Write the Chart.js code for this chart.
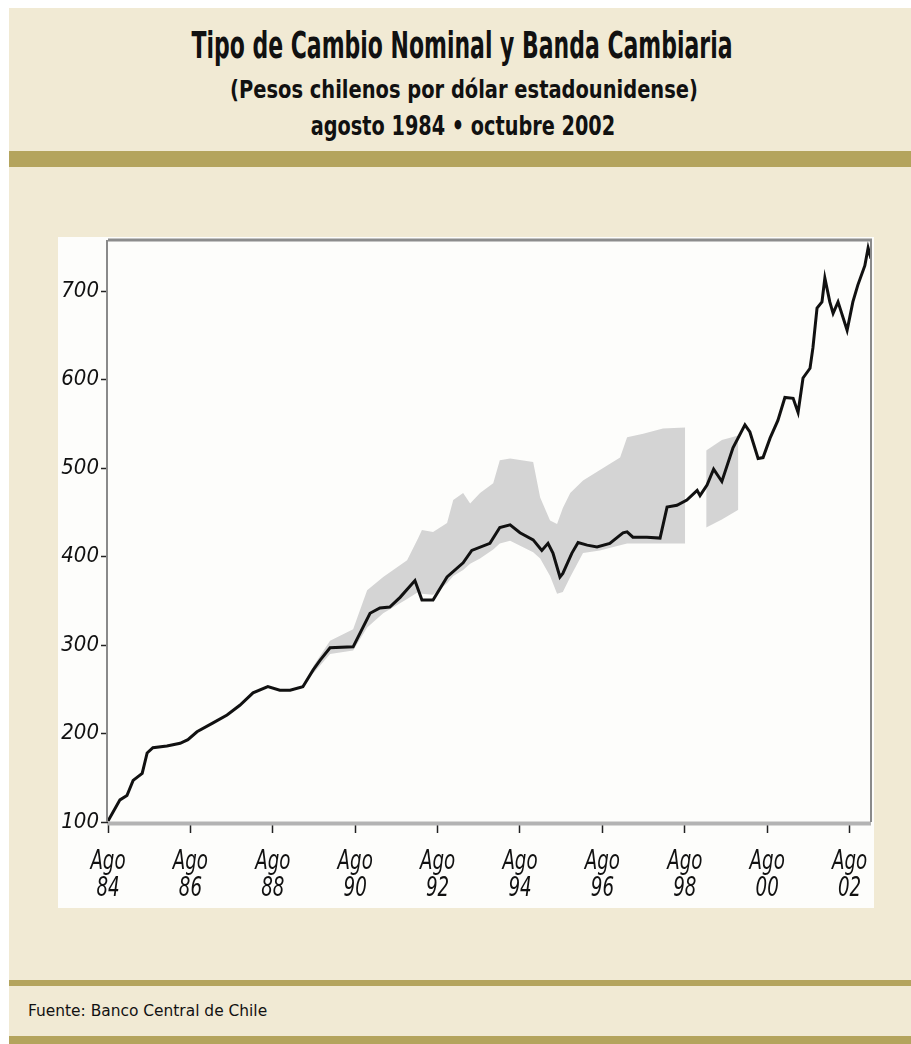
<!DOCTYPE html>
<html>
<head>
<meta charset="utf-8">
<script src="https://cdn.jsdelivr.net/npm/chart.js@4.4.1/dist/chart.umd.min.js"></script>
<style>
  html, body { margin: 0; padding: 0; background: #ffffff; }
  #page { position: relative; width: 911px; height: 1044px; overflow: hidden; }
  #panel { position: absolute; left: 9px; top: 8px; right: 0; bottom: 0; background: #f1ead4; }
  .olive { position: absolute; left: 9px; right: 0; background: #b4a45d; }
  .head { position: absolute; white-space: nowrap; color: #111; line-height: 1;
          font-family: 'DejaVu Sans Condensed', 'Liberation Sans', sans-serif;
          font-weight: bold; transform-origin: center center; }
  #plotBox { position: absolute; left: 58px; top: 237px; width: 816px; height: 671px; background: #fdfdfb; }
  #foot { position: absolute; left: 28px; top: 1003px; white-space: nowrap; color: #111; line-height: 1;
          font-family: 'DejaVu Sans Condensed', 'Liberation Sans', sans-serif; font-size: 16px; transform-origin: left center; }
</style>
</head>
<body>
<div id="page">
  <div id="panel"></div>
  <div class="head" id="t1" data-w="541" style="left:462px; top:26px; font-size:38px;">Tipo de Cambio Nominal y Banda Cambiaria</div>
  <div class="head" id="t2" data-w="468" style="left:464px; top:77px; font-size:25px;">(Pesos chilenos por dólar estadounidense)</div>
  <div class="head" id="t3" data-w="304" style="left:463px; top:113px; font-size:26px;">agosto 1984 • octubre 2002</div>
  <div class="olive" style="top:151px; height:16px;"></div>
  <div id="plotBox"><canvas id="tcChart" width="816" height="671"></canvas></div>
  <div class="olive" style="top:980px; height:6px;"></div>
  <div id="foot" data-w="239">Fuente: Banco Central de Chile</div>
  <div class="olive" style="top:1036px; height:8px;"></div>
</div>
<script>
// Tipo de cambio observado (pesos por dólar), fechas en años decimales
var lineYears = [1984.58, 1984.87, 1985.04, 1985.19, 1985.41, 1985.53, 1985.67, 1986.01, 1986.33, 1986.52,
    1986.74, 1987.13, 1987.47, 1987.78, 1988.10, 1988.46, 1988.75, 1989.00, 1989.31, 1989.56,
    1989.73, 1989.97, 1990.53, 1990.94, 1991.18, 1991.42, 1991.67, 1992.03, 1992.20, 1992.47,
    1992.81, 1993.20, 1993.41, 1993.85, 1994.09, 1994.34, 1994.58, 1994.90, 1995.11, 1995.26,
    1995.38, 1995.55, 1995.62, 1995.84, 1995.99, 1996.21, 1996.45, 1996.76, 1997.08, 1997.18,
    1997.32, 1997.66, 1997.98, 1998.15, 1998.39, 1998.63, 1998.88, 1998.95, 1999.12, 1999.28,
    1999.48, 1999.75, 2000.04, 2000.16, 2000.36, 2000.48, 2000.65, 2000.84, 2001.01, 2001.21,
    2001.33, 2001.45, 2001.62, 2001.69, 2001.79, 2001.91, 2001.98, 2002.10, 2002.18, 2002.30,
    2002.52, 2002.66, 2002.78, 2002.95, 2003.03, 2003.10];
var lineValues = [101, 125, 130, 147, 155, 178, 184, 186, 189, 193,
    202, 212, 221, 232, 246, 253, 249, 249, 253, 272,
    283, 297, 298, 336, 342, 343, 354, 373, 351, 351,
    377, 393, 407, 415, 433, 436, 427, 419, 407, 415,
    404, 377, 381, 404, 416, 413, 411, 415, 427, 428,
    422, 422, 421, 456, 458, 464, 475, 469, 481, 499,
    485, 523, 549, 541, 511, 512, 534, 554, 580, 579,
    563, 602, 613, 636, 681, 688, 715, 688, 675, 688,
    656, 688, 707, 729, 749, 737];

// Banda cambiaria: piso y techo (null = tramo sin banda)
var bandYears = [1989.56, 1989.97, 1990.53, 1990.87, 1991.26, 1991.84, 1992.11, 1992.20, 1992.47, 1992.81,
    1992.96, 1993.20, 1993.37, 1993.61, 1993.93, 1994.09, 1994.34, 1994.90, 1995.07, 1995.31,
    1995.48, 1995.62, 1995.80, 1996.11, 1996.52, 1997.01, 1997.18, 1997.57, 1998.05, 1998.59,
    1998.80, 1999.10, 1999.48, 1999.88];
var bandLow = [268, 290, 294, 320, 336, 352, 360, 358, 357, 370,
    378, 385, 392, 398, 408, 415, 418, 405, 398, 378,
    358, 360, 377, 404, 407, 413, 415, 415, 415, 415,
    null, 433, 442, 453];
var bandHigh = [276, 305, 318, 362, 377, 396, 421, 430, 428, 438,
    464, 472, 460, 472, 483, 509, 511, 507, 467, 441,
    437, 455, 472, 486, 498, 512, 535, 539, 545, 546,
    null, 520, 532, 537];

var yTicks = [100, 200, 300, 400, 500, 600, 700];
var xTickYears = [1984.58, 1986.58, 1988.58, 1990.58, 1992.58, 1994.58, 1996.58, 1998.58, 2000.58, 2002.58];
var xTickLabels = ['84', '86', '88', '90', '92', '94', '96', '98', '00', '02'];

function toPoints(xs, ys) {
    return xs.map(function(x, i) { return { x: x, y: ys[i] }; });
}

// scale header lines to their column width
function fitText(el, centered) {
    var target = parseFloat(el.getAttribute('data-w'));
    var s = target / el.offsetWidth;
    el.style.transform = centered ? 'translateX(-50%) scaleX(' + s + ')' : 'scaleX(' + s + ')';
}

var narrow = "'DejaVu Sans Condensed', 'Liberation Sans', sans-serif";

// frame around the plot area
var framePlugin = {
    id: 'frame',
    afterDatasetsDraw: function(chart) {
        var a = chart.chartArea, c = chart.ctx;
        c.save();
        c.lineCap = 'butt';
        c.strokeStyle = '#b3b3b3'; c.lineWidth = 4;
        c.beginPath(); c.moveTo(a.left, a.bottom + 1.5); c.lineTo(a.right, a.bottom + 1.5); c.stroke();
        c.strokeStyle = '#8c8c8c'; c.lineWidth = 3;
        c.beginPath(); c.moveTo(a.left, a.top); c.lineTo(a.right + 1, a.top); c.stroke();
        c.strokeStyle = '#8a8a8a'; c.lineWidth = 2;
        c.beginPath(); c.moveTo(a.left - 1, a.top); c.lineTo(a.left - 1, a.bottom); c.stroke();
        c.beginPath(); c.moveTo(a.right, a.top); c.lineTo(a.right, a.bottom); c.stroke();
        c.restore();
    }
};

// two-line "Ago / yy" labels, narrowed horizontally
var xLabelPlugin = {
    id: 'xLabels',
    afterDraw: function(chart) {
        var xs = chart.scales.x, c = chart.ctx;
        var top = chart.chartArea.bottom;
        c.save();
        c.fillStyle = '#111';
        c.font = 'italic 26px ' + narrow;
        c.textAlign = 'center';
        c.textBaseline = 'alphabetic';
        xTickYears.forEach(function(v, i) {
            var px = xs.getPixelForValue(v);
            c.save();
            c.translate(px, 0);
            c.scale(0.78, 1);
            c.fillText('Ago', 0, top + 47);
            c.fillText(xTickLabels[i], 0, top + 74);
            c.restore();
        });
        c.restore();
    }
};

function draw() {
    fitText(document.getElementById('t1'), true);
    fitText(document.getElementById('t2'), true);
    fitText(document.getElementById('t3'), true);
    fitText(document.getElementById('foot'), false);

    var ctx = document.getElementById('tcChart').getContext('2d');
    new Chart(ctx, {
        type: 'line',
        data: {
            datasets: [
                {
                    label: 'Tipo de cambio',
                    data: toPoints(lineYears, lineValues),
                    borderColor: '#111111',
                    borderWidth: 3,
                    pointRadius: 0,
                    tension: 0,
                    fill: false,
                    order: 0
                },
                {
                    label: 'Techo banda',
                    data: toPoints(bandYears, bandHigh),
                    borderWidth: 0,
                    borderColor: 'rgba(0,0,0,0)',
                    backgroundColor: '#d4d4d4',
                    pointRadius: 0,
                    tension: 0,
                    spanGaps: false,
                    fill: '+1',
                    order: 1
                },
                {
                    label: 'Piso banda',
                    data: toPoints(bandYears, bandLow),
                    borderWidth: 0,
                    borderColor: 'rgba(0,0,0,0)',
                    pointRadius: 0,
                    tension: 0,
                    spanGaps: false,
                    fill: false,
                    order: 2
                }
            ]
        },
        options: {
            responsive: false,
            animation: false,
            layout: { padding: { top: 3, right: 3, left: 0, bottom: 0 } },
            plugins: {
                legend: { display: false },
                tooltip: { enabled: false }
            },
            scales: {
                x: {
                    type: 'linear',
                    min: 1984.58,
                    max: 2003.10,
                    afterBuildTicks: function(axis) {
                        axis.ticks = xTickYears.map(function(v) { return { value: v }; });
                    },
                    afterFit: function(axis) {
                        axis.height = 86;
                        axis.paddingLeft = 0;
                        axis.paddingRight = 0;
                    },
                    border: { display: false },
                    grid: { drawOnChartArea: false, drawTicks: true, tickLength: 11, tickColor: '#222', tickWidth: 1.5 },
                    ticks: { display: false }
                },
                y: {
                    min: 100,
                    max: 758,
                    afterBuildTicks: function(axis) {
                        axis.ticks = yTicks.map(function(v) { return { value: v }; });
                    },
                    afterFit: function(axis) {
                        axis.width = 50;
                        axis.paddingTop = 0;
                        axis.paddingBottom = 0;
                    },
                    border: { display: false },
                    grid: { drawOnChartArea: false, drawTicks: true, tickLength: 7, tickColor: '#222', tickWidth: 1.5 },
                    ticks: {
                        padding: 2,
                        color: '#111',
                        font: { family: narrow, size: 22, style: 'italic' }
                    }
                }
            }
        },
        plugins: [framePlugin, xLabelPlugin]
    });
}

document.addEventListener('DOMContentLoaded', function() {
    if (document.fonts && document.fonts.ready) {
        document.fonts.ready.then(draw);
    } else {
        draw();
    }
});
</script>
</body>
</html>
